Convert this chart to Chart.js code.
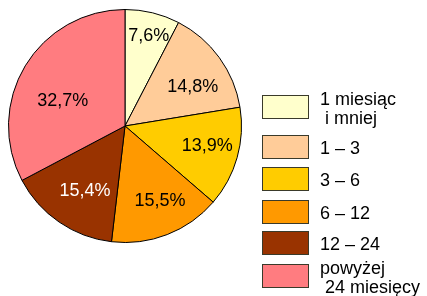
<!DOCTYPE html>
<html lang="pl">
<head>
  <meta charset="UTF-8">
  <title>Okres pozostawania bez pracy</title>
  <script src="https://cdn.jsdelivr.net/npm/chart.js"></script>
  <style>
    html, body { margin: 0; padding: 0; background: #fff; }
  </style>
</head>
<body>
  <canvas id="pieChart" width="427" height="296"></canvas>

  <script>
    const categories = [['1 miesiąc', ' i mniej'], ['1 – 3'], ['3 – 6'], ['6 – 12'], ['12 – 24'], ['powyżej', ' 24 miesięcy']];
    const values = [7.6, 14.8, 13.9, 15.5, 15.4, 32.7];
    const valueLabels = ['7,6%', '14,8%', '13,9%', '15,5%', '15,4%', '32,7%'];
    const colors = ['#FFFFCC', '#FFCC99', '#FFCC00', '#FF9900', '#993300', '#FF7C80'];
    const labelColors = ['#000', '#000', '#000', '#000', '#fff', '#000'];

    const FONT = '18px "Liberation Sans", Arial, sans-serif';

    // etykiety procentowe wewnątrz wycinków
    const sliceLabels = {
      id: 'sliceLabels',
      afterDatasetsDraw(chart) {
        const ctx = chart.ctx;
        const meta = chart.getDatasetMeta(0);
        // położenie etykiety: część promienia i przesunięcie kąta (stopnie)
        const frac = [0.81, 0.675, 0.724, 0.70, 0.645, 0.58];
        const shift = [0.9, 5.5, -2.7, -4.2, -2.2, -8.4];
        ctx.save();
        ctx.font = FONT;
        ctx.textAlign = 'center';
        ctx.textBaseline = 'middle';
        meta.data.forEach((arc, i) => {
          const mid = (arc.startAngle + arc.endAngle) / 2 + shift[i] * Math.PI / 180;
          const r = arc.outerRadius * frac[i];
          ctx.fillStyle = labelColors[i];
          ctx.fillText(valueLabels[i], arc.x + Math.cos(mid) * r, arc.y + Math.sin(mid) * r + 1);
        });
        ctx.restore();
      }
    };

    // legenda po prawej stronie
    const sideLegend = {
      id: 'sideLegend',
      afterDraw(chart) {
        const ctx = chart.ctx;
        const boxTops = [95, 135, 167, 200, 231, 264];
        ctx.save();
        ctx.font = FONT;
        ctx.textBaseline = 'alphabetic';
        categories.forEach((lines, i) => {
          const y = boxTops[i];
          ctx.fillStyle = colors[i];
          ctx.fillRect(262.5, y + 0.5, 46, 23);
          ctx.strokeStyle = '#3a3a2a';
          ctx.lineWidth = 1;
          ctx.strokeRect(262.5, y + 0.5, 46, 23);
          ctx.fillStyle = '#000';
          if (lines.length === 1) {
            ctx.fillText(lines[0], 320, y + 18.5);
          } else {
            ctx.fillText(lines[0], 320, y + 9.5);
            ctx.fillText(lines[1], 320, y + 28.5);
          }
        });
        ctx.restore();
      }
    };

    new Chart(document.getElementById('pieChart'), {
      type: 'pie',
      data: {
        labels: categories.map(l => l.join(' ')),
        datasets: [{
          data: values,
          backgroundColor: colors,
          borderColor: '#000',
          borderWidth: 1
        }]
      },
      options: {
        responsive: false,
        animation: false,
        layout: { padding: { left: 8, top: 9, right: 185, bottom: 53 } },
        plugins: {
          legend: { display: false },
          tooltip: { enabled: false }
        }
      },
      plugins: [sliceLabels, sideLegend]
    });
  </script>
</body>
</html>
